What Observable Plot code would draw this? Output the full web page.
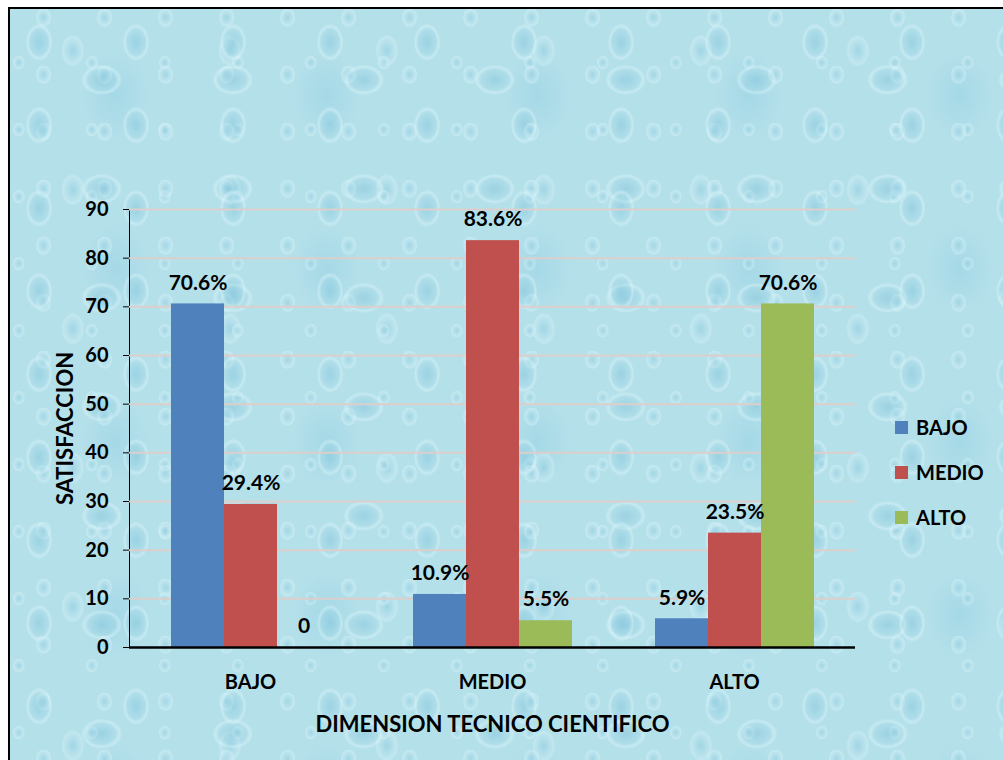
<!DOCTYPE html>
<html>
<head>
<meta charset="utf-8">
<script src="https://cdn.jsdelivr.net/npm/d3@7"></script>
<script src="https://cdn.jsdelivr.net/npm/@observablehq/plot@0.6"></script>
<style>
  html, body { margin: 0; padding: 0; background: #fff; }
  #wrap { position: relative; width: 1003px; height: 760px; overflow: hidden; background: #fff; font-family: Lato, "Open Sans", sans-serif; }
  #bg {
    position: absolute; left: 8px; top: 7px; width: 1000px; height: 760px;
    border-left: 2px solid #000; border-top: 2px solid #000;
    background-color: #b4e0ea;
    background-image:
      radial-gradient(ellipse 15px 21px at 30% 40%, rgba(110,185,212,0.35) 0%, rgba(150,210,228,0.2) 60%, rgba(225,248,252,0.4) 76%, rgba(225,248,252,0) 90%),
      radial-gradient(ellipse 23px 17px at 70% 65%, rgba(105,180,210,0.32) 0%, rgba(150,210,228,0.18) 60%, rgba(225,248,252,0.4) 76%, rgba(225,248,252,0) 90%),
      radial-gradient(ellipse 9px 11px at 55% 15%, rgba(120,190,215,0.3) 0%, rgba(225,248,252,0.35) 75%, rgba(225,248,252,0) 90%),
      radial-gradient(ellipse 7px 8px at 12% 80%, rgba(120,190,215,0.3) 0%, rgba(225,248,252,0.35) 75%, rgba(225,248,252,0) 90%),
      radial-gradient(ellipse 13px 18px at 40% 30%, rgba(110,185,212,0.28) 0%, rgba(225,248,252,0.3) 76%, rgba(225,248,252,0) 90%),
      radial-gradient(ellipse 34px 44px at 50% 50%, rgba(130,200,222,0.3) 0%, rgba(190,232,240,0) 100%);
    background-size: 97px 83px, 131px 109px, 61px 57px, 73px 67px, 157px 139px, 211px 173px;
  }
  #chart { position: absolute; left: 0; top: 0; }
  .legend { position: absolute; left: 895px; top: 418px; font-weight: 700; font-size: 20px; color: #000; }
  .legend .row { position: relative; height: 45px; }
  .legend .sw { position: absolute; left: 0; top: 3px; width: 13px; height: 13px; }
  .legend .lb { position: absolute; left: 21px; top: -3px; line-height: 24px; }
</style>
</head>
<body>
<div id="wrap">
  <div id="bg"></div>
  <div id="chart"></div>
  <div class="legend" id="legend"></div>
</div>
<script>
// Data
const grupos = ["BAJO", "MEDIO", "ALTO"];
const series = ["BAJO", "MEDIO", "ALTO"];
const colores = ["#4f81bd", "#c0504d", "#9bbb59"];
const valoresBajo  = [70.6, 29.4, 0];   // group BAJO: series BAJO, MEDIO, ALTO
const valoresMedio = [10.9, 83.6, 5.5]; // group MEDIO
const valoresAlto  = [5.9, 23.5, 70.6]; // group ALTO
const etiquetasBajo  = ["70.6%", "29.4%", "0"];
const etiquetasMedio = ["10.9%", "83.6%", "5.5%"];
const etiquetasAlto  = ["5.9%", "23.5%", "70.6%"];
const yTicks = [0, 10, 20, 30, 40, 50, 60, 70, 80, 90];

const valores = [valoresBajo, valoresMedio, valoresAlto];
const etiquetas = [etiquetasBajo, etiquetasMedio, etiquetasAlto];
const data = [];
grupos.forEach((g, gi) => series.forEach((s, si) => {
  data.push({grupo: g, serie: s, valor: valores[gi][si], etiqueta: etiquetas[gi][si]});
}));

const chart = Plot.plot({
  width: 1003,
  height: 760,
  marginLeft: 128,
  marginRight: 148,
  marginTop: 209,
  marginBottom: 113,
  style: {background: "transparent", fontFamily: "Lato, 'Open Sans', sans-serif", fontWeight: "700", fontSize: "20px", color: "#000"},
  fx: {domain: grupos, paddingInner: 0, paddingOuter: 0, axis: "bottom", tickSize: 0, tickPadding: 27,
       label: "DIMENSION TECNICO CIENTIFICO", labelAnchor: "center", labelOffset: 84, labelArrow: "none"},
  x: {domain: series, paddingInner: 0, paddingOuter: 0.743, axis: null},
  y: {domain: [0, 90], ticks: yTicks, tickSize: 6, tickPadding: 6, line: true,
      label: "SATISFACCION", labelAnchor: "center", labelOffset: 72, labelArrow: "none"},
  color: {domain: series, range: colores},
  marks: [
    Plot.ruleY(yTicks.filter(d => d > 0), {stroke: "#dccfcb", strokeWidth: 2}),
    Plot.barY(data, {fx: "grupo", x: "serie", y: "valor", fill: "serie", inset: 0}),
    Plot.text(data, {fx: "grupo", x: "serie", y: "valor", text: "etiqueta", dy: -21, fontWeight: 700, fontSize: 21, fill: "#000"}),
    Plot.ruleY([0], {stroke: "#000", strokeWidth: 2.5})
  ]
});
document.getElementById("chart").appendChild(chart);

// axis titles slightly larger; strip any arrow
d3.select(chart).selectAll('[aria-label="y-axis label"] text, [aria-label="fx-axis label"] text, [aria-label="y-axis label"], [aria-label="fx-axis label"]')
  .filter(function () { return this.tagName === "text" || this.tagName === "g"; })
  .style("font-size", "22px");
d3.select(chart).selectAll("text").each(function () {
  const t = this.textContent;
  if (t.includes("→") || t.includes("↑")) this.textContent = t.replace(/\s*[→↑]\s*/g, "").trim();
});
// shift y tick labels a little further left of the axis
const tickSet = new Set(yTicks.map(String));
d3.select(chart).selectAll("text").each(function () {
  if (!tickSet.has(this.textContent.trim())) return;
  const b = this.getBoundingClientRect();
  if (b.right < 126) {
    this.setAttribute("transform", (this.getAttribute("transform") || "") + " translate(-9,0)");
  }
});

const leg = document.getElementById("legend");
series.forEach((s, i) => {
  const row = document.createElement("div");
  row.className = "row";
  row.innerHTML = `<div class="sw" style="background:${colores[i]}"></div><div class="lb">${s}</div>`;
  leg.appendChild(row);
});
</script>
</body>
</html>
